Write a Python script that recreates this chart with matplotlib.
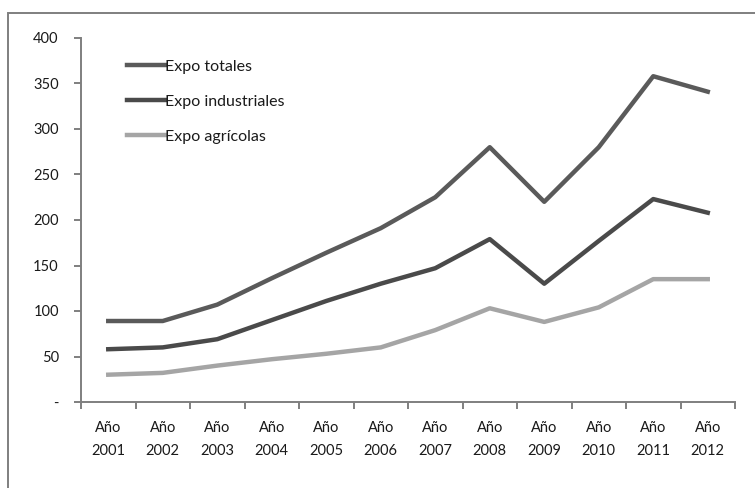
import matplotlib.pyplot as plt
from matplotlib.patches import Rectangle

YEARS = ["Año\n2001", "Año\n2002", "Año\n2003", "Año\n2004", "Año\n2005", "Año\n2006",
         "Año\n2007", "Año\n2008", "Año\n2009", "Año\n2010", "Año\n2011", "Año\n2012"]
EXPO_TOTALES = [89, 89, 107, 136, 164, 191, 225, 280, 220, 280, 358, 341]
EXPO_INDUSTRIALES = [58, 60, 69, 90, 111, 130, 147, 179, 130, 177, 223, 208]
EXPO_AGRICOLAS = [30, 32, 40, 47, 53, 60, 79, 103, 88, 104, 135, 135]
Y_TICKS = [0, 50, 100, 150, 200, 250, 300, 350, 400]
Y_LABELS = ["-", "50", "100", "150", "200", "250", "300", "350", "400"]

plt.rcParams["font.family"] = ["Lato", "DejaVu Sans"]

W, H = 755, 488
fig = plt.figure(figsize=(W / 100, H / 100), dpi=100)
fig.patches.append(Rectangle((8 / W, -0.1), 1.2, 1 - 13 / H + 0.1,
                             transform=fig.transFigure, fill=False,
                             edgecolor="#7f7f7f", linewidth=1.4))
ax = fig.add_axes([81 / W, 1 - 402 / H, (735 - 81) / W, (402 - 38) / H])

x = list(range(len(YEARS)))
ax.plot(x, EXPO_TOTALES, color="#5a5a5a", linewidth=3.2, label="Expo totales")
ax.plot(x, EXPO_INDUSTRIALES, color="#4a4a4a", linewidth=3.2, label="Expo industriales")
ax.plot(x, EXPO_AGRICOLAS, color="#a5a5a5", linewidth=3.2, label="Expo agrícolas")

ax.set_xlim(-0.5, len(YEARS) - 0.5)
ax.set_ylim(0, 400)
ax.set_xticks(x)
ax.set_xticklabels(YEARS, fontsize=10.5, color="#1a1a1a", linespacing=1.75)
ax.set_xticks([i - 0.5 for i in range(len(YEARS) + 1)], minor=True)
ax.tick_params(axis="x", which="major", length=0, pad=14)
ax.tick_params(axis="x", which="minor", length=5, width=1.4, color="#7f7f7f", direction="out")
ax.set_yticks(Y_TICKS)
ax.set_yticklabels(Y_LABELS, fontsize=10.5, color="#1a1a1a")
ax.tick_params(axis="y", length=5, width=1.4, color="#7f7f7f", direction="out", pad=11)

for side in ("top", "right"):
    ax.spines[side].set_visible(False)
for side in ("left", "bottom"):
    ax.spines[side].set_color("#7f7f7f")
    ax.spines[side].set_linewidth(1.4)

leg = ax.legend(loc="upper left", bbox_to_anchor=(0.048, 0.98), frameon=False, fontsize=11.5,
                handlelength=2.4, handletextpad=0.0, labelspacing=1.3)
for t in leg.get_texts():
    t.set_color("#1a1a1a")

fig.savefig("out.png", dpi=100)
